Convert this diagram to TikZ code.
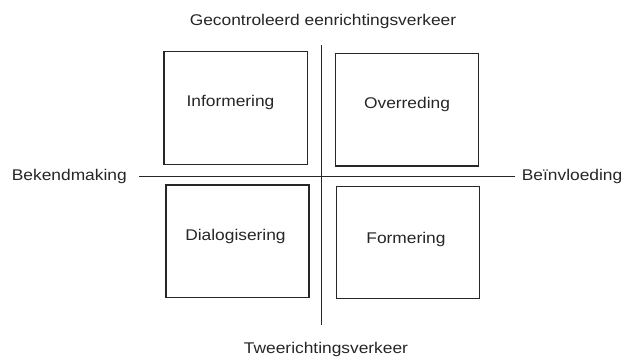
\documentclass[tikz,border=0pt]{standalone}
\usepackage{fontspec}
\setmainfont[FakeStretch=1.12]{Liberation Sans}
\begin{document}
\begin{tikzpicture}[x=1pt,y=-1pt,
  box/.style={draw=black!85,line width=1.2pt,rectangle,inner sep=0pt},
  lbl/.style={font=\fontsize{15.5}{18}\selectfont,text=black!85,inner sep=0pt,anchor=base},
  axis/.style={draw=black!85,line width=1.1pt}]
\useasboundingbox (0,0) rectangle (629,357);
% boxes
\node[box,minimum width=143.7pt,minimum height=112.6pt] (inf) at (235.85,108) {};
\node[box,minimum width=143pt,minimum height=112.7pt] (ovr) at (406.8,109.65) {};
\node[box,minimum width=143pt,minimum height=112.7pt] (dia) at (237.5,241.35) {};
\node[box,minimum width=142.6pt,minimum height=111.6pt] (frm) at (408,242.5) {};
% box texts
\node[lbl] (tinf) at (230.5,106.3) {Informering};
\node[lbl] (tovr) at (407,108.6) {Overreding};
\node[lbl] (tdia) at (235.5,240.6) {Dialogisering};
\node[lbl] (tfrm) at (406,243) {Formering};
% axes
\coordinate (vt) at (321.7,45);
\coordinate (vb) at (321.7,325);
\coordinate (hl) at (139,176.5);
\coordinate (hr) at (515,176.5);
\draw[axis] (vt) -- (vb);
\draw[axis] (hl) -- (hr);
% axis labels
\node[lbl] (top) at (323,25.7) {Gecontroleerd eenrichtingsverkeer};
\node[lbl] (bot) at (326,353.3) {Tweerichtingsverkeer};
\node[lbl,anchor=base west] (lft) at (11.7,180) {Bekendmaking};
\node[lbl,anchor=base west] (rgt) at (521.7,180) {Beïnvloeding};
\end{tikzpicture}
\end{document}
